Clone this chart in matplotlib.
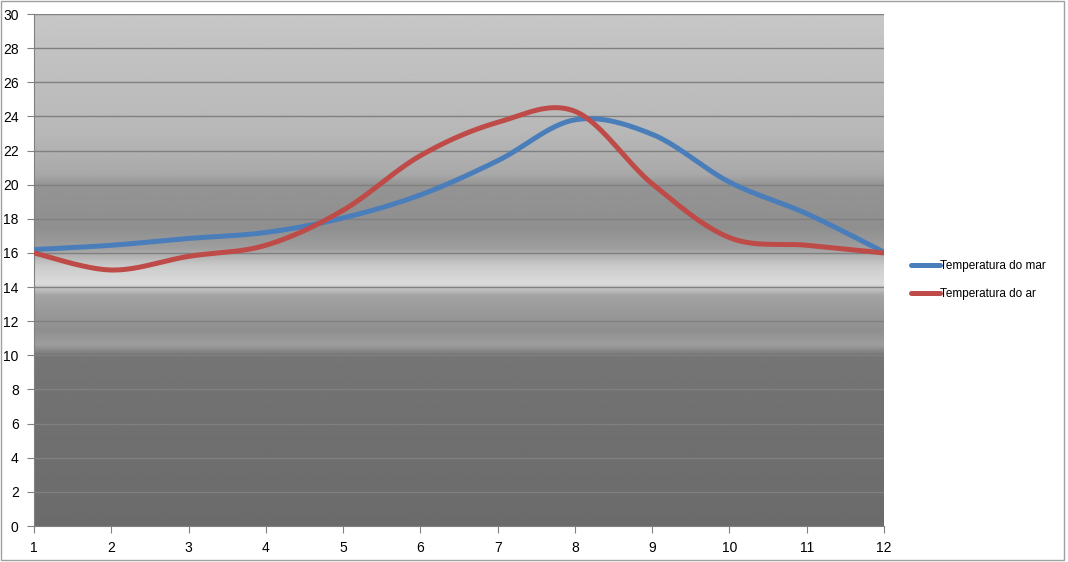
import matplotlib
matplotlib.use("Agg")
import matplotlib.pyplot as plt
import numpy as np

months = [1, 2, 3, 4, 5, 6, 7, 8, 9, 10, 11, 12]
sea_temp = [16.2, 16.45, 16.85, 17.2, 18.05, 19.4, 21.4, 23.8, 22.95, 20.15, 18.3, 16.05]
air_temp = [16.0, 15.0, 15.8, 16.45, 18.5, 21.7, 23.65, 24.3, 20.05, 16.9, 16.45, 16.0]
y_ticks = list(range(0, 31, 2))


def smooth(xs, ys, steps=40):
    # bezier through the points, like a spreadsheet "smoothed line"
    xs = np.asarray(xs, float)
    ys = np.asarray(ys, float)
    px = np.concatenate([[xs[0]], xs, [xs[-1]]])
    py = np.concatenate([[ys[0]], ys, [ys[-1]]])
    out_x, out_y = [], []
    t = np.linspace(0, 1, steps)
    for i in range(1, len(px) - 2):
        p0 = np.array([px[i], py[i]])
        p3 = np.array([px[i + 1], py[i + 1]])
        c1 = p0 + (np.array([px[i + 1], py[i + 1]]) - np.array([px[i - 1], py[i - 1]])) / 6
        c2 = p3 - (np.array([px[i + 2], py[i + 2]]) - np.array([px[i], py[i]])) / 6
        for tt in t:
            b = ((1 - tt) ** 3) * p0 + 3 * ((1 - tt) ** 2) * tt * c1 + 3 * (1 - tt) * tt ** 2 * c2 + tt ** 3 * p3
            out_x.append(b[0])
            out_y.append(b[1])
    return out_x, out_y


plt.rcParams["font.family"] = ["Liberation Sans", "DejaVu Sans"]

fig = plt.figure(figsize=(10.68, 5.62), dpi=100)
ax = fig.add_axes([34 / 1068, 36 / 562, 850 / 1068, 512 / 562])

# grey sea-photo like backdrop
stops_y = [0, 6, 10, 10.6, 11.5, 12.5, 13.5, 14.2, 15.2, 16.3, 17.5, 20.0, 20.6, 23, 30]
stops_g = [0.42, 0.44, 0.46, 0.62, 0.56, 0.60, 0.64, 0.86, 0.80, 0.62, 0.56, 0.58, 0.66, 0.72, 0.78]
yy = np.linspace(0, 30, 600)
col = np.interp(yy, stops_y, stops_g)
img = np.repeat(col[:, None], 10, axis=1)
ax.imshow(img, cmap="gray", vmin=0, vmax=1, origin="lower", extent=[1, 12, 0, 30],
          aspect="auto", interpolation="bilinear", zorder=0)

for t in y_ticks[1:]:
    ax.axhline(t, color="#808080", lw=1, zorder=1)

sx, sy = smooth(months, sea_temp)
ax.plot(sx, sy, color="#4a7ebb", lw=3.6, solid_capstyle="round", label="Temperatura do mar", zorder=3)
axx, ayy = smooth(months, air_temp)
ax.plot(axx, ayy, color="#be4b48", lw=3.6, solid_capstyle="round", label="Temperatura do ar", zorder=3)

ax.set_xlim(1, 12)
ax.set_ylim(0, 30)
ax.set_xticks(months)
ax.set_yticks(y_ticks)
ax.tick_params(direction="out", length=5, color="#808080", labelsize=10, pad=6)
for side in ["top", "right"]:
    ax.spines[side].set_visible(False)
ax.spines["left"].set_color("#808080")
ax.spines["bottom"].set_color("#808080")

fig.legend(loc="center left", bbox_to_anchor=(900 / 1068, 1 - 280 / 562), frameon=False,
           fontsize=8.5, handlelength=2.5, handletextpad=0.0, labelspacing=1.3)

# chart border
fig.patches.append(plt.Rectangle((0.001, 0.003), 0.995, 0.995, transform=fig.transFigure,
                                 fill=False, edgecolor="#a0a0a0", lw=1))

fig.savefig("out.png", dpi=100)
